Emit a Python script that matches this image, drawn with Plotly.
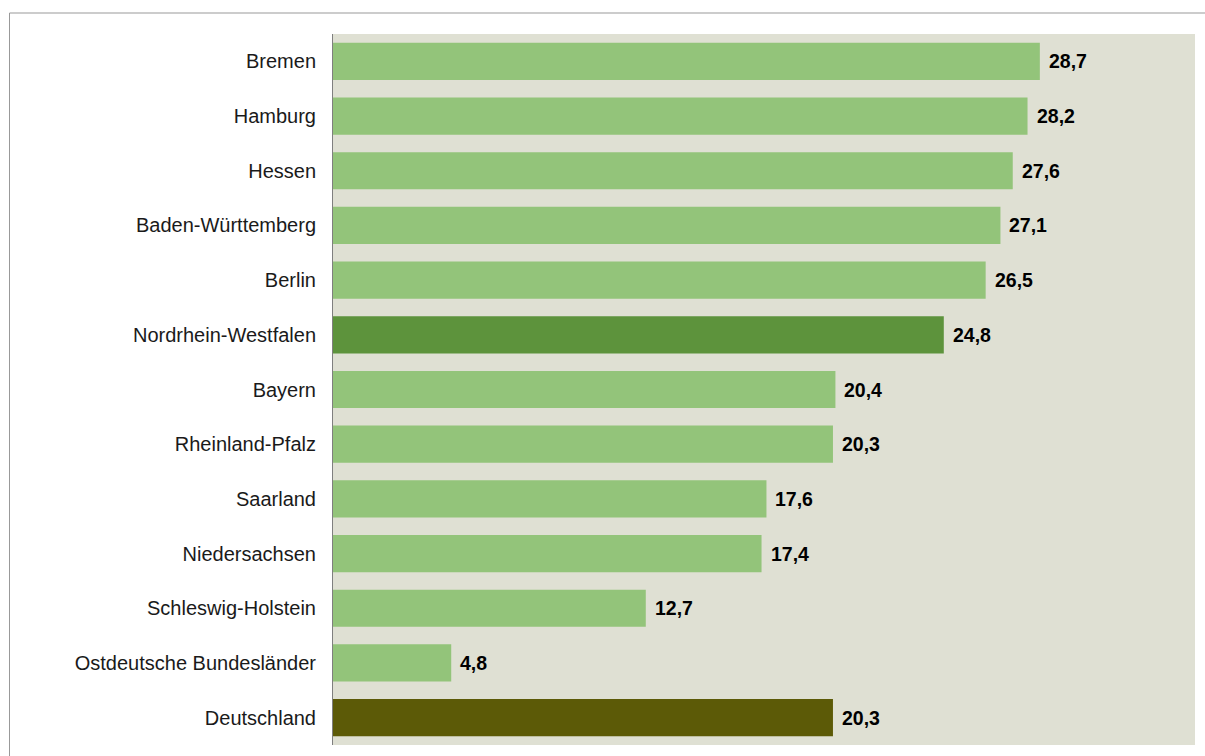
import plotly.graph_objects as go

# Federal states and their values (top to bottom)
states = [
    "Bremen", "Hamburg", "Hessen", "Baden-Württemberg", "Berlin",
    "Nordrhein-Westfalen", "Bayern", "Rheinland-Pfalz", "Saarland",
    "Niedersachsen", "Schleswig-Holstein", "Ostdeutsche Bundesländer",
    "Deutschland",
]
values = [28.7, 28.2, 27.6, 27.1, 26.5, 24.8, 20.4, 20.3, 17.6, 17.4, 12.7, 4.8, 20.3]

LIGHT = "#93c47a"
NRW = "#5d933c"
DE = "#5c5a07"
colors = [NRW if s == "Nordrhein-Westfalen" else DE if s == "Deutschland" else LIGHT
          for s in states]

def fmt(v):
    return f"{v:.1f}".replace(".", ",")

fig = go.Figure(
    go.Bar(
        x=values,
        y=states,
        orientation="h",
        marker=dict(color=colors, line=dict(width=0)),
        hoverinfo="skip",
    )
)

# value labels to the right of each bar
for s, v in zip(states, values):
    fig.add_annotation(
        x=v, y=s, text=fmt(v), showarrow=False,
        xanchor="left", xshift=7,
        font=dict(family="Liberation Sans, Arial, sans-serif", size=19.5, color="#000000",
                  weight="bold"),
    )

W, H = 1205, 756
L, R, T, B = 333, 10, 34, 11
pw, ph = W - L - R, H - T - B

# thin outer frame (top and left edges visible)
fig.add_shape(
    type="rect", xref="paper", yref="paper",
    x0=(9.5 - L) / pw, x1=1 + (R + 20) / pw,
    y0=-(B + 20) / ph, y1=1 + (T - 13) / ph,
    line=dict(color="#999999", width=1), fillcolor="rgba(0,0,0,0)", layer="below",
)

fig.update_layout(
    width=W, height=H,
    margin=dict(l=L, r=R, t=T, b=B, pad=0),
    paper_bgcolor="#ffffff",
    plot_bgcolor="#dfe0d3",
    bargap=0.32,
    showlegend=False,
    font=dict(family="Liberation Sans, Arial, sans-serif", size=20, color="#1a1a1a"),
    xaxis=dict(range=[0, 35], showgrid=False, zeroline=False, showticklabels=False,
               ticks="", fixedrange=True),
    yaxis=dict(autorange="reversed", showgrid=False, zeroline=False,
               showline=True, linecolor="#7f7f7f", linewidth=1,
               ticks="", ticklabelstandoff=12, fixedrange=True),
)

fig.write_html("out.html")
